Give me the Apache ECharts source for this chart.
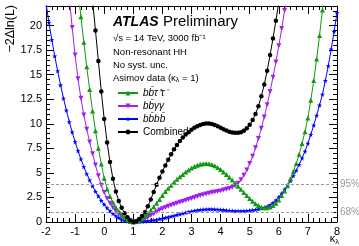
<!DOCTYPE html>
<html lang="en">
<head>
  <meta charset="utf-8"/>
  <script src="https://cdn.jsdelivr.net/npm/echarts/dist/echarts.min.js"></script>
  <style>
    html, body { margin: 0; padding: 0; background: #fff; }
    #chart { width: 359px; height: 246px; }
  </style>
</head>
<body>
<div id="chart"></div>
<script>
  // kappa_lambda scan points, one every 0.1
  var kappa = [
    -2.0, -1.9, -1.8, -1.7, -1.6, -1.5, -1.4, -1.3, -1.2, -1.1,
    -1.0, -0.9, -0.8, -0.7, -0.6, -0.5, -0.4, -0.3, -0.2, -0.1,
    0.0, 0.1, 0.2, 0.3, 0.4, 0.5, 0.6, 0.7, 0.8, 0.9,
    1.0, 1.1, 1.2, 1.3, 1.4, 1.5, 1.6, 1.7, 1.8, 1.9,
    2.0, 2.1, 2.2, 2.3, 2.4, 2.5, 2.6, 2.7, 2.8, 2.9,
    3.0, 3.1, 3.2, 3.3, 3.4, 3.5, 3.6, 3.7, 3.8, 3.9,
    4.0, 4.1, 4.2, 4.3, 4.4, 4.5, 4.6, 4.7, 4.8, 4.9,
    5.0, 5.1, 5.2, 5.3, 5.4, 5.5, 5.6, 5.7, 5.8, 5.9,
    6.0, 6.1, 6.2, 6.3, 6.4, 6.5, 6.6, 6.7, 6.8, 6.9,
    7.0, 7.1, 7.2, 7.3, 7.4, 7.5, 7.6, 7.7, 7.8, 7.9,
    8.0
  ];

  // -2 Delta ln(L) per channel
  var bbtautau = [
    null, null, null, null, null, null, null, null, null, null,
    null, 23.5, 20.9, 18.3, 15.8, 13.5, 11.3, 9.3, 7.5, 5.9,
    4.45, 3.35, 2.6, 2.0, 1.5, 1.1, 0.75, 0.45, 0.22, 0.06,
    0, 0.05, 0.17, 0.35, 0.6, 0.88, 1.2, 1.55, 1.92, 2.3,
    2.7, 3.1, 3.45, 3.75, 4.05, 4.35, 4.6, 4.85, 5.1, 5.3,
    5.5, 5.65, 5.78, 5.87, 5.93, 5.95, 5.93, 5.85, 5.72, 5.55,
    5.35, 5.1, 4.85, 4.57, 4.28, 3.97, 3.65, 3.33, 3.0, 2.7,
    2.4, 2.12, 1.87, 1.67, 1.52, 1.45, 1.45, 1.52, 1.68, 1.92,
    2.25, 2.7, 3.15, 3.7, 4.4, 5.15, 5.95, 6.9, 8.0, 9.2,
    10.6, 12.4, 14.4, 16.6, 19.0, 21.6, 24.4, null, null, null,
    null
  ];
  var bbyy = [
    null, null, null, null, null, null, null, null, 22.9, 19.8,
    17.0, 14.6, 12.6, 10.9, 9.45, 8.15, 6.95, 5.8, 4.7, 3.75,
    3.0, 2.4, 1.9, 1.45, 1.1, 0.8, 0.55, 0.32, 0.15, 0.04,
    0, 0.03, 0.1, 0.2, 0.33, 0.48, 0.65, 0.85, 1.05, 1.22,
    1.35, 1.48, 1.6, 1.7, 1.8, 1.9, 2.0, 2.1, 2.2, 2.3,
    2.4, 2.5, 2.6, 2.7, 2.78, 2.86, 2.93, 3.0, 3.05, 3.1,
    3.17, 3.25, 3.33, 3.42, 3.53, 3.7, 3.95, 4.3, 4.75, 5.3,
    5.95, 6.7, 7.55, 8.5, 9.55, 10.7, 11.95, 13.3, 14.75, 16.3,
    17.95, 19.7, 21.55, 23.5, null, null, null, null, null, null,
    null, null, null, null, null, null, null, null, null, null,
    null
  ];
  var bbbb = [
    22.3, 20.3, 18.55, 16.9, 15.4, 13.95, 12.6, 11.37, 10.2, 9.15,
    8.16, 7.25, 6.4, 5.62, 4.91, 4.26, 3.66, 3.11, 2.63, 2.18,
    1.79, 1.43, 1.12, 0.85, 0.62, 0.43, 0.27, 0.15, 0.07, 0.02,
    0, 0.01, 0.02, 0.04, 0.07, 0.1, 0.14, 0.19, 0.24, 0.3,
    0.36, 0.43, 0.5, 0.57, 0.64, 0.72, 0.8, 0.88, 0.96, 1.03,
    1.09, 1.15, 1.2, 1.24, 1.27, 1.29, 1.3, 1.3, 1.29, 1.27,
    1.25, 1.22, 1.19, 1.16, 1.14, 1.12, 1.11, 1.11, 1.12, 1.14,
    1.17, 1.21, 1.26, 1.32, 1.39, 1.47, 1.58, 1.74, 1.95, 2.22,
    2.55, 2.92, 3.33, 3.75, 4.2, 4.7, 5.25, 5.85, 6.5, 7.2,
    8.0, 8.9, 9.85, 10.85, 11.9, 13.0, 14.4, 15.9, 17.6, 19.4,
    21.3
  ];
  var combined = [
    null, null, null, null, null, null, null, null, null, null,
    null, null, null, null, null, null, 22.6, 19.5, 16.4, 13.3,
    10.5, 8.1, 6.1, 4.4, 3.1, 2.15, 1.45, 0.9, 0.48, 0.17,
    0, 0.08, 0.3, 0.6, 1.0, 1.6, 2.3, 3.05, 3.8, 4.5,
    5.15, 5.75, 6.35, 6.9, 7.4, 7.85, 8.25, 8.6, 8.9, 9.15,
    9.4, 9.6, 9.75, 9.88, 9.97, 10.02, 10.03, 9.98, 9.88, 9.75,
    9.6, 9.45, 9.32, 9.2, 9.12, 9.08, 9.08, 9.15, 9.3, 9.55,
    9.9, 10.4, 11.0, 11.8, 12.8, 14.0, 15.4, 17.0, 18.7, 20.5,
    22.4, null, null, null, null, null, null, null, null, null,
    null, null, null, null, null, null, null, null, null, null,
    null
  ];

  var clLevels = [3.84, 1];
  var clLabels = ['95%', '68%'];

  function pairs(vals) {
    return kappa.map(function (k, i) { return [k, vals[i]]; });
  }

  var font = 'Liberation Sans, Arial, sans-serif';
  var starPath = 'path://M5,0 L6.2,3.6 L10,3.8 L7,6.1 L8.1,9.8 L5,7.6 L1.9,9.8 L3,6.1 L0,3.8 L3.8,3.6 Z';

  function frameAxis(extra) {
    var base = {
      type: 'value',
      axisLine: { show: true, onZero: false, lineStyle: { color: '#000', width: 1 } },
      axisTick: { show: true, inside: true, length: 8, lineStyle: { color: '#000' } },
      minorTick: { show: true, splitNumber: 5, length: 4, lineStyle: { color: '#000' } },
      splitLine: { show: false },
      axisLabel: { show: false }
    };
    return Object.assign(base, extra);
  }

  var legendNames = {
    'bbtautau': '{i|bb\u0304\u03c4\u207a\u03c4\u207b}',
    'bbyy': '{i|bb\u0304\u03b3\u03b3}',
    'bbbb': '{i|bb\u0304bb\u0304}',
    'Combined': 'Combined'
  };

  var chart = echarts.init(document.getElementById('chart'), null, { renderer: 'canvas' });
  var option = {
    animation: false,
    backgroundColor: '#fff',
    grid: { left: 46, right: 22, top: 6, bottom: 24 },
    xAxis: [
      frameAxis({
        min: -2, max: 8, interval: 1, position: 'bottom',
        axisLabel: { show: true, color: '#000', fontSize: 11, fontFamily: font, margin: 4 }
      }),
      frameAxis({ min: -2, max: 8, interval: 1, position: 'top' })
    ],
    yAxis: [
      frameAxis({
        min: 0, max: 22, interval: 2.5, position: 'left',
        axisLabel: { show: true, color: '#000', fontSize: 11, fontFamily: font, margin: 4, showMaxLabel: false }
      }),
      frameAxis({ min: 0, max: 22, interval: 2.5, position: 'right' })
    ],
    legend: {
      orient: 'vertical',
      left: 112,
      top: 83,
      itemWidth: 20,
      itemHeight: 6,
      itemGap: 3,
      data: ['bbtautau', 'bbyy', 'bbbb', 'Combined'],
      formatter: function (name) { return legendNames[name]; },
      textStyle: {
        color: '#000', fontSize: 10, fontFamily: font,
        rich: { i: { fontStyle: 'italic', fontSize: 10, fontFamily: font, color: '#000' } }
      }
    },
    series: [
      {
        name: 'bbbb', type: 'line', data: pairs(bbbb),
        symbol: starPath, symbolSize: 5,
        lineStyle: { color: '#0000ff', width: 1 }, itemStyle: { color: '#0000ff' },
        markLine: {
          silent: true, symbol: 'none',
          lineStyle: { color: '#9a9a9a', type: [3, 2], width: 1 },
          label: { position: 'end', color: '#9a9a9a', fontSize: 10, fontFamily: font, distance: 3 },
          data: clLevels.map(function (v, i) {
            return { yAxis: v, label: { formatter: clLabels[i] } };
          })
        }
      },
      {
        name: 'bbyy', type: 'line', data: pairs(bbyy),
        symbol: 'triangle', symbolRotate: 180, symbolSize: 5,
        lineStyle: { color: '#a020f0', width: 1 }, itemStyle: { color: '#a020f0' }
      },
      {
        name: 'bbtautau', type: 'line', data: pairs(bbtautau),
        symbol: 'triangle', symbolSize: 5,
        lineStyle: { color: '#119911', width: 1 }, itemStyle: { color: '#119911' }
      },
      {
        name: 'Combined', type: 'line', data: pairs(combined),
        symbol: 'circle', symbolSize: 4.5,
        lineStyle: { color: '#000', width: 1 }, itemStyle: { color: '#000' }
      }
    ],
    graphic: [
      { type: 'text', x: 113, y: 22, style: { text: 'ATLAS', font: 'italic bold 14px ' + font, fill: '#000', verticalAlign: 'middle', textVerticalAlign: 'middle' } },
      { type: 'text', x: 163, y: 22, style: { text: 'Preliminary', font: '15px ' + font, fill: '#000', verticalAlign: 'middle', textVerticalAlign: 'middle' } },
      { type: 'text', x: 113, y: 38, style: { text: '\u221As = 14 TeV, 3000 fb\u207B\u00B9', font: '9.5px ' + font, fill: '#000', verticalAlign: 'middle', textVerticalAlign: 'middle' } },
      { type: 'text', x: 113, y: 52, style: { text: 'Non-resonant HH', font: '9.5px ' + font, fill: '#000', verticalAlign: 'middle', textVerticalAlign: 'middle' } },
      { type: 'text', x: 113, y: 65, style: { text: 'No syst. unc.', font: '9.5px ' + font, fill: '#000', verticalAlign: 'middle', textVerticalAlign: 'middle' } },
      {
        type: 'text', x: 113, y: 78,
        style: {
          text: '{n|Asimov data (\u03ba}{s|\u03bb}{n| = 1)}', verticalAlign: 'middle', textVerticalAlign: 'middle',
          rich: { n: { fontSize: 9.5, fontFamily: font, fill: '#000', color: '#000' }, s: { fontSize: 7, fontFamily: font, fill: '#000', color: '#000', padding: [5, 0, 0, 0] } }
        }
      },
      {
        type: 'text', x: 11, y: 5, rotation: Math.PI / 2,
        style: { text: '\u22122\u0394ln(L)', font: '12.5px ' + font, fill: '#000', align: 'right', textAlign: 'right', verticalAlign: 'middle', textVerticalAlign: 'middle' }
      },
      {
        type: 'text', x: 339, y: 239,
        style: {
          text: '{n|\u03ba}{s|\u03bb}', align: 'right', textAlign: 'right', verticalAlign: 'middle', textVerticalAlign: 'middle',
          rich: { n: { fontSize: 11, fontFamily: font, color: '#000' }, s: { fontSize: 7.5, fontFamily: font, color: '#000', padding: [5, 0, 0, 0] } }
        }
      }
    ]
  };
  chart.setOption(option);
</script>
</body>
</html>
